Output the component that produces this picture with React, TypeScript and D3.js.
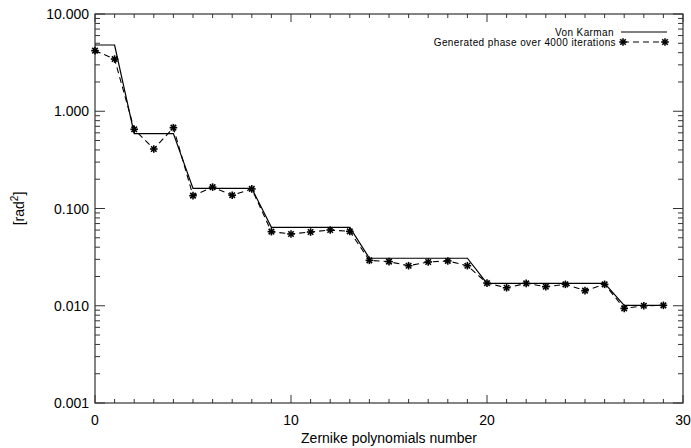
import React from "react";
import * as d3 from "d3";

const vonKarman: number[] = [
  4.8, 4.8,
  0.59, 0.59, 0.59,
  0.161, 0.161, 0.161, 0.161,
  0.064, 0.064, 0.064, 0.064, 0.064,
  0.0308, 0.0308, 0.0308, 0.0308, 0.0308, 0.0308,
  0.017, 0.017, 0.017, 0.017, 0.017, 0.017, 0.017,
  0.0101, 0.0101, 0.0101,
];

const generated: number[] = [
  4.2, 3.44,
  0.652, 0.409, 0.678,
  0.1355, 0.166, 0.137, 0.159,
  0.0578, 0.0547, 0.0573, 0.0601, 0.0582,
  0.0293, 0.0284, 0.0258, 0.0282, 0.0289, 0.0258,
  0.0171, 0.0153, 0.017, 0.0157, 0.0166, 0.0143, 0.0166,
  0.0094, 0.01, 0.0101,
];

const xTickValues: number[] = [0, 10, 20, 30];
const yTickValues: number[] = [10, 1, 0.1, 0.01, 0.001];
const yTickLabels: string[] = ["10.000", "1.000", "0.100", "0.010", "0.001"];
const legendLabels: string[] = ["Von Karman", "Generated phase over 4000 iterations"];
const xTitle = "Zernike polynomials number";

const W = 691;
const H = 448;
const L = 95, R = 683, T = 14, B = 403;
const FONT = "'Liberation Sans', Arial, Helvetica, sans-serif";

function Star({ x, y, s = 3.8 }: { x: number; y: number; s?: number }) {
  const d = s * 0.72;
  return (
    <g stroke="#000" strokeWidth={1.6}>
      <line x1={x - s} y1={y} x2={x + s} y2={y} />
      <line x1={x} y1={y - s} x2={x} y2={y + s} />
      <line x1={x - d} y1={y - d} x2={x + d} y2={y + d} />
      <line x1={x - d} y1={y + d} x2={x + d} y2={y - d} />
    </g>
  );
}

export default function App() {
  const x = d3.scaleLinear().domain([0, 30]).range([L, R]);
  const y = d3.scaleLog().domain([0.001, 10]).range([B, T]);

  const line = d3
    .line<number>()
    .x((_, i) => x(i))
    .y((d) => y(d));

  const xMinor = d3.range(0, 31);
  const yMinor: number[] = [];
  for (let e = -3; e < 1; e++) {
    for (let m = 2; m <= 9; m++) yMinor.push(m * Math.pow(10, e));
  }

  return (
    <svg
      width={W}
      height={H}
      style={{ position: "absolute", left: 0, top: 0, background: "#fff" }}
      fontFamily={FONT}
    >
      <rect x={0} y={0} width={W} height={H} fill="#fff" />
      {/* frame */}
      <rect x={L} y={T} width={R - L} height={B - T} fill="none" stroke="#333" strokeWidth={1.2} />
      {/* x ticks bottom and top */}
      {xMinor.map((v) => {
        const major = v % 10 === 0;
        const len = major ? 8 : 4;
        return (
          <g key={"xt" + v} stroke="#333" strokeWidth={1}>
            <line x1={x(v)} x2={x(v)} y1={B} y2={B - len} />
            <line x1={x(v)} x2={x(v)} y1={T} y2={T + len} />
          </g>
        );
      })}
      {/* y ticks left and right */}
      {yTickValues.map((v) => (
        <g key={"yM" + v} stroke="#333" strokeWidth={1}>
          <line x1={L} x2={L + 10} y1={y(v)} y2={y(v)} />
          <line x1={R} x2={R - 10} y1={y(v)} y2={y(v)} />
        </g>
      ))}
      {yMinor.map((v, i) => (
        <g key={"ym" + i} stroke="#333" strokeWidth={1}>
          <line x1={L} x2={L + 5} y1={y(v)} y2={y(v)} />
          <line x1={R} x2={R - 5} y1={y(v)} y2={y(v)} />
        </g>
      ))}
      {/* tick labels */}
      {xTickValues.map((v) => (
        <text key={"xl" + v} x={x(v)} y={425} textAnchor="middle" fontSize={14} fill="#000">
          {v}
        </text>
      ))}
      {yTickValues.map((v, i) => (
        <text
          key={"yl" + v}
          x={L - 6}
          y={y(v) + 5}
          textAnchor="end"
          fontSize={14}
          fill="#000"
        >
          {yTickLabels[i]}
        </text>
      ))}
      {/* axis titles */}
      <text x={(L + R) / 2} y={443} textAnchor="middle" fontSize={14} fill="#000">
        {xTitle}
      </text>
      <text
        transform={`translate(24, ${(T + B) / 2}) rotate(-90)`}
        textAnchor="middle"
        fontSize={14}
        fill="#000"
      >
        [rad<tspan dy={-6} fontSize={10}>2</tspan>
        <tspan dy={6}>]</tspan>
      </text>
      {/* data */}
      <path d={line(vonKarman) || ""} fill="none" stroke="#000" strokeWidth={1.2} />
      <path
        d={line(generated) || ""}
        fill="none"
        stroke="#000"
        strokeWidth={1.1}
        strokeDasharray="6,4"
      />
      {generated.map((v, i) => (
        <Star key={"s" + i} x={x(i)} y={y(v)} />
      ))}
      {/* legend */}
      <text x={614} y={35.5} textAnchor="end" fontSize={10} letterSpacing={0.4} fill="#000">
        {legendLabels[0]}
      </text>
      <line x1={621} x2={667} y1={32} y2={32} stroke="#000" strokeWidth={1.1} />
      <text x={616} y={45.5} textAnchor="end" fontSize={10} letterSpacing={0.4} fill="#000">
        {legendLabels[1]}
      </text>
      <line x1={623} x2={665} y1={42} y2={42} stroke="#000" strokeWidth={1.1} strokeDasharray="6,4" />
      <Star x={623} y={42} />
      <Star x={665} y={42} />
    </svg>
  );
}
